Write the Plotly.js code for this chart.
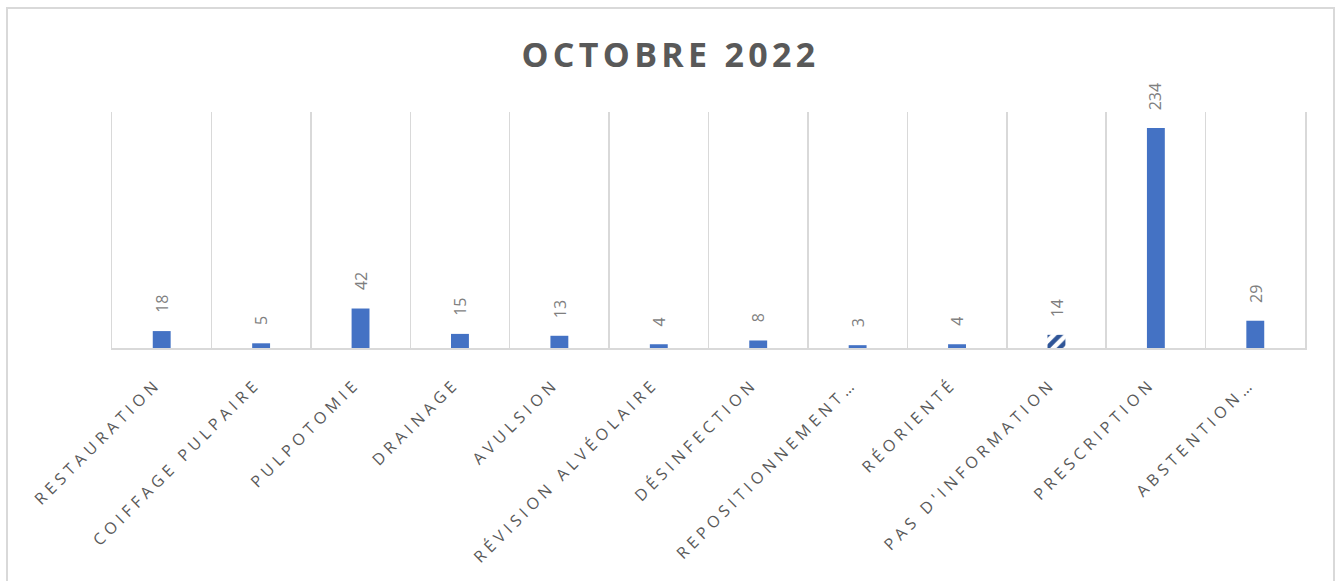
<!DOCTYPE html>
<html>
<head>
<meta charset="utf-8">
<script src="https://cdn.plot.ly/plotly-3.0.1.min.js"></script>
<style>
html,body{margin:0;padding:0;background:#fff;overflow:hidden;}
#chart{position:absolute;left:0;top:0;width:1341px;height:581px;}
#frame{position:absolute;left:6px;top:7px;width:1329px;height:620px;border:2px solid #d9d9d9;pointer-events:none;box-sizing:border-box;}
.xtick text{letter-spacing:4.6px;}
.gtitle{letter-spacing:4.3px;}
</style>
</head>
<body>
<div id="chart"></div>
<div id="frame"></div>
<script>
var categories = ["RESTAURATION","COIFFAGE PULPAIRE","PULPOTOMIE","DRAINAGE","AVULSION","RÉVISION ALVÉOLAIRE","DÉSINFECTION","REPOSITIONNEMENT…","RÉORIENTÉ","PAS D'INFORMATION","PRESCRIPTION","ABSTENTION…"];
var values = [18,5,42,15,13,4,8,3,4,14,234,29];
var patterned = ["","","","","","","","","","/","",""];

var trace = {
  type: 'bar',
  x: categories,
  y: values,
  marker: {
    color: '#4472C4',
    pattern: {shape: patterned, fgcolor: '#2F5597', bgcolor: '#ffffff', fillmode: 'replace', size: 9, solidity: 0.5}
  },
  hoverinfo: 'none'
};

var annotations = categories.map(function(c, i){
  return {
    x: c, y: values[i], xref: 'x', yref: 'y',
    text: String(values[i]), showarrow: false,
    textangle: -90, yanchor: 'bottom', xanchor: 'center', yshift: 16,
    font: {family: 'Open Sans, sans-serif', size: 16, color: '#7F7F7F'}
  };
});

var layout = {
  width: 1341, height: 581,
  margin: {l: 112, r: 36, t: 112, b: 233},
  paper_bgcolor: '#ffffff', plot_bgcolor: '#ffffff',
  title: {text: '<b>OCTOBRE 2022</b>', x: 0.5, xanchor: 'center', y: 1 - 55/581, yanchor: 'middle',
          font: {family: 'Open Sans, sans-serif', size: 34, color: '#595959'}},
  bargap: 0.82,
  showlegend: false,
  xaxis: {
    type: 'category', tickson: 'boundaries', showgrid: true, gridcolor: '#d9d9d9', gridwidth: 1.5,
    showline: true, linecolor: '#d9d9d9', linewidth: 2, ticks: '', tickangle: -45,
    ticklabelstandoff: 18, ticklabelshift: -5,
    tickfont: {family: 'Open Sans, sans-serif', size: 16, color: '#595959'},
    fixedrange: true
  },
  yaxis: {range: [0, 251], visible: true, showticklabels: false, ticks: '', showgrid: false, zeroline: false,
          showline: true, mirror: true, linecolor: '#d9d9d9', linewidth: 1.5, fixedrange: true},
  annotations: annotations
};

Plotly.newPlot('chart', [trace], layout, {displayModeBar: false, staticPlot: true});
</script>
</body>
</html>
